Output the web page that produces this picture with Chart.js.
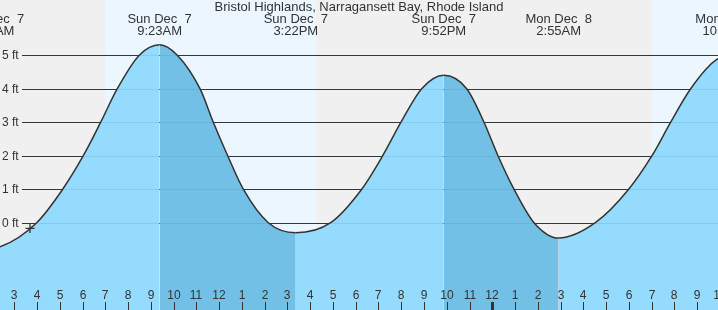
<!DOCTYPE html>
<html>
<head>
<meta charset="utf-8">
<script src="https://cdn.jsdelivr.net/npm/chart.js@4"></script>
<style>
	body { margin: 0; overflow: hidden; background: #f0f0f0; }
	#tide { display: block; }
</style>
</head>
<body>
<canvas id="tide" width="718" height="310"></canvas>
<script>
// hours counted from Sun Dec 7 00:00
const tideHours = [2.02, 2.372, 3.984, 5.126, 6.031, 6.796, 7.525, 8.492, 9.383, 10.161, 11.158, 11.743,
	12.375, 13.061, 14.159, 15.367, 16.9, 18.262, 19.185, 19.989, 20.898, 21.867, 22.875, 23.635,
	24.25, 24.953, 25.832, 26.917, 28.525, 29.993, 31.016, 31.838, 32.716, 33.885, 34.38];
const tideFeet = [-0.75, -0.72, 0, 1, 2, 3, 4, 5, 5.31, 5, 4, 3,
	2, 1, 0, -0.3, 0, 1, 2, 3, 4, 4.4, 4, 3,
	2, 1, 0, -0.46, 0, 1, 2, 3, 4, 4.88, 4.95];

const extremeHours = [2.02, 9.383, 15.367, 21.867, 26.917, 34.38];
const extremeDays = ['Sun Dec  7', 'Sun Dec  7', 'Sun Dec  7', 'Sun Dec  7', 'Mon Dec  8', 'Mon Dec  8'];
const extremeTimes = ['2:01AM', '9:23AM', '3:22PM', '9:52PM', '2:55AM', '10:23AM'];

const sunrises = [6.98, 31.0];
const sunsets = [16.25, 40];

const hourTicks = [3, 4, 5, 6, 7, 8, 9, 10, 11, 12, 13, 14, 15, 16, 17, 18, 19, 20, 21, 22, 23, 24,
	25, 26, 27, 28, 29, 30, 31, 32, 33, 34];
const hourLabels = ['3', '4', '5', '6', '7', '8', '9', '10', '11', '12', '1', '2', '3', '4', '5', '6', '7', '8', '9', '10', '11', '12',
	'1', '2', '3', '4', '5', '6', '7', '8', '9', '10'];

const feetTicks = [0, 1, 2, 3, 4, 5];
const feetLabels = ['0 ft', '1 ft', '2 ft', '3 ft', '4 ft', '5 ft'];

const nowHour = [3.69];
const nowFeet = [-0.17];

const title = 'Bristol Highlands, Narragansett Bay, Rhode Island';

const textColor = '#333';
const font12 = '12px "Liberation Sans", Arial, sans-serif';
const font13 = '13px "Liberation Sans", Arial, sans-serif';

const tidePlugin = {
	id: 'tideDecor',
	beforeDatasetsDraw(chart) {
		const {ctx, chartArea: a, scales: {x, y}} = chart;
		ctx.save();
		// night / day background
		ctx.fillStyle = '#f0f0f0';
		ctx.fillRect(a.left, a.top, a.width, a.height);
		ctx.fillStyle = '#ecf6ff';
		sunrises.forEach((s, i) => {
			const x0 = x.getPixelForValue(s);
			const x1 = x.getPixelForValue(sunsets[i]);
			ctx.fillRect(x0, a.top, x1 - x0, a.height);
		});
		// feet grid + labels
		ctx.strokeStyle = textColor;
		ctx.lineWidth = 1;
		ctx.font = font12;
		ctx.fillStyle = textColor;
		ctx.textBaseline = 'middle';
		ctx.textAlign = 'left';
		feetTicks.forEach((f, i) => {
			const py = Math.round(y.getPixelForValue(f)) + 0.5;
			ctx.beginPath();
			ctx.moveTo(22, py);
			ctx.lineTo(a.right, py);
			ctx.stroke();
			ctx.fillText(feetLabels[i], 2, py);
		});
		ctx.restore();
	},
	afterDatasetsDraw(chart) {
		const {ctx, chartArea: a, scales: {x, y}} = chart;
		ctx.save();
		// grid lines show faintly through the water
		ctx.strokeStyle = 'rgba(40, 90, 120, 0.13)';
		ctx.lineWidth = 1;
		feetTicks.forEach(f => {
			const py = Math.round(y.getPixelForValue(f)) + 0.5;
			ctx.beginPath();
			ctx.moveTo(22, py);
			ctx.lineTo(a.right, py);
			ctx.stroke();
		});
		ctx.fillStyle = textColor;
		ctx.textAlign = 'center';
		ctx.textBaseline = 'middle';
		// hour ticks at the bottom
		ctx.font = font12;
		hourTicks.forEach((h, i) => {
			const px = Math.round(x.getPixelForValue(h));
			ctx.fillText(hourLabels[i], px, a.bottom - 14);
			const w = h % 24 === 0 ? 3 : 1;
			ctx.fillRect(px - (w - 1) / 2, a.bottom - 8, w, 8);
		});
		// title and high / low labels
		ctx.font = font13;
		ctx.fillText(title, (a.left + a.right) / 2, 7);
		extremeHours.forEach((h, i) => {
			const px = x.getPixelForValue(h);
			ctx.fillText(extremeDays[i], px, 19.5);
			ctx.fillText(extremeTimes[i], px, 31.5);
		});
		ctx.restore();
	}
};

const lightFill = '#95dbfd';
const darkFill = '#72c0e5';

new Chart(document.getElementById('tide'), {
	type: 'line',
	data: {
		datasets: [
			{
				data: tideHours.map((h, i) => ({x: h, y: tideFeet[i]})),
				borderColor: '#333',
				borderWidth: 1.5,
				backgroundColor: lightFill,
				fill: 'start',
				pointRadius: 0,
				cubicInterpolationMode: 'monotone',
				order: 1,
				segment: {
					backgroundColor: c => c.p1.parsed.y < c.p0.parsed.y ? darkFill : lightFill
				}
			},
			{
				data: nowHour.map((h, i) => ({x: h, y: nowFeet[i]})),
				showLine: false,
				pointStyle: 'cross',
				pointRadius: 4.5,
				pointBorderColor: '#333',
				pointBorderWidth: 1.3,
				fill: false,
				order: 0
			}
		]
	},
	options: {
		responsive: false,
		devicePixelRatio: 1,
		animation: false,
		layout: {padding: 0, autoPadding: false},
		scales: {
			x: {type: 'linear', min: 2.372, max: 33.916, display: false},
			y: {type: 'linear', min: -2.606, max: 6.648, display: false}
		},
		plugins: {
			legend: {display: false},
			tooltip: {enabled: false}
		}
	},
	plugins: [tidePlugin]
});
</script>
</body>
</html>
